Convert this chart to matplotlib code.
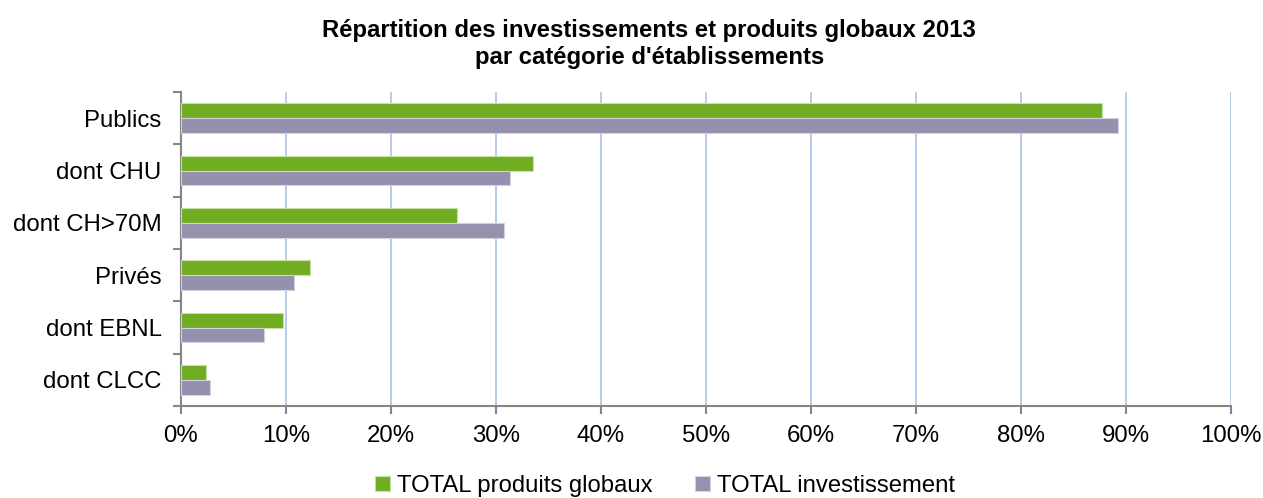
import numpy as np
import matplotlib.pyplot as plt
from matplotlib.ticker import PercentFormatter

plt.rcParams['font.family'] = ['Liberation Sans', 'DejaVu Sans']

# Données (en %)
categories = ['Publics', 'dont CHU', 'dont CH>70M', 'Privés', 'dont EBNL', 'dont CLCC']
produits = [87.7, 33.5, 26.3, 12.3, 9.75, 2.4]
investissement = [89.2, 31.3, 30.8, 10.8, 7.9, 2.8]

green = '#70AD22'
purple = '#9590AE'

fig = plt.figure(figsize=(12.63, 4.98), dpi=100)
ax = fig.add_axes([181 / 1263, 1 - 406 / 498, 1050 / 1263, 314 / 498])

y = np.arange(len(categories))
h = 0.285
ax.barh(y - h / 2, produits, height=h, color=green, edgecolor='#c8e0a8', linewidth=0.8,
        label='TOTAL produits globaux', zorder=3)
ax.barh(y + h / 2, investissement, height=h, color=purple, edgecolor='#d4d2de', linewidth=0.8,
        label='TOTAL investissement', zorder=3)

ax.set_xlim(0, 100)
ax.set_ylim(len(categories) - 0.5, -0.5)
ax.set_xticks(np.arange(0, 101, 10))
ax.xaxis.set_major_formatter(PercentFormatter(decimals=0))
ax.set_yticks(y)
ax.set_yticklabels(categories)
ax.set_yticks(np.arange(-0.5, len(categories), 1), minor=True)
ax.tick_params(axis='y', which='major', length=0, pad=14, labelsize=17.3)
ax.tick_params(axis='y', which='minor', length=6, color='#868686', width=1.5)
ax.tick_params(axis='x', length=6, color='#868686', width=1.5, labelsize=17.3, pad=8)

ax.grid(axis='x', color='#b0c6ea', linewidth=1.3, zorder=0)
for s in ['top', 'right']:
    ax.spines[s].set_visible(False)
for s in ['left', 'bottom']:
    ax.spines[s].set_color('#868686')
    ax.spines[s].set_linewidth(1.5)

fig.suptitle("Répartition des investissements et produits globaux 2013\npar catégorie d'établissements",
             fontsize=17.2, fontweight='bold', x=0.514, y=0.962, linespacing=1.25)

fig.legend(loc='center', ncol=2, frameon=False, fontsize=17.2,
           bbox_to_anchor=(665 / 1263, 1 - 486 / 498), handlelength=0.6, handleheight=0.6,
           handletextpad=0.3, columnspacing=1.8)

fig.savefig('out.png', dpi=100)
